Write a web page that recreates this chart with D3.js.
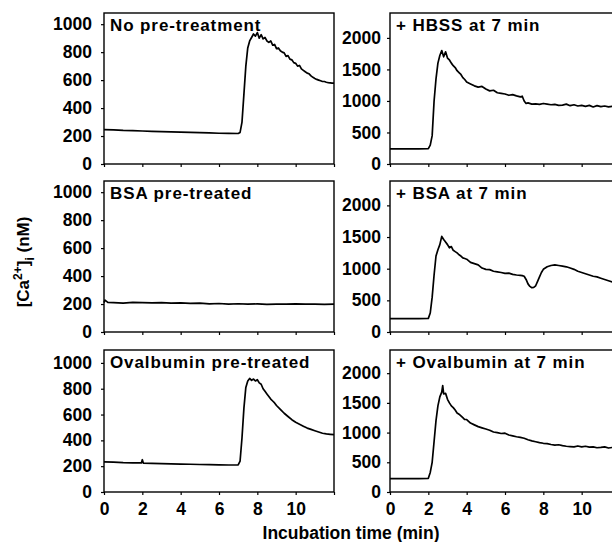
<!DOCTYPE html>
<html><head><meta charset="utf-8">
<script src="https://cdn.jsdelivr.net/npm/d3@7"></script>
<style>
body{margin:0;background:#fff;}
text{font-family:"Liberation Sans",Arial,Helvetica,sans-serif;fill:#000;}
</style></head>
<body><svg id="chart" width="612" height="542"></svg>
<script>
// ---- data (time in min, [Ca2+]i in nM) ----
const titles = ["No pre-treatment","+ HBSS at 7 min","BSA pre-treated","+ BSA at 7 min","Ovalbumin pre-treated","+ Ovalbumin at 7 min"];
const xTicks = [0,2,4,6,8,10,12];
const xTickLabels = ["0","2","4","6","8","10",""];
const yTicksLeft = [0,200,400,600,800,1000];
const yTicksRight = [0,500,1000,1500,2000];
const yMaxLeft = [1080,1080,1100];
const yMaxRight = [2395,2385,2390];

const tNoPre = [0,0.5,1,1.5,2,2.5,3,3.5,4,4.5,5,5.5,6,6.5,7,7.1,7.2,7.3,7.4,7.5,7.6,7.7,7.8,7.9,8.0,8.1,8.2,8.3,8.4,8.5,8.6,8.7,8.8,8.9,9.0,9.1,9.2,9.3,9.4,9.5,9.6,9.7,9.8,9.9,10.0,10.1,10.2,10.3,10.4,10.5,10.6,10.7,10.8,10.9,11.0,11.1,11.2,11.3,11.4,11.5,11.6,11.7,11.8,11.9,12.0];
const vNoPre = [246,244,240,238,236,234,232,230,228,226,224,222,220,219,218,226,300,500,700,830,880,905,930,915,940,900,925,895,905,880,870,880,850,855,825,830,810,800,795,770,775,750,745,725,720,700,705,680,670,660,650,645,630,620,612,605,600,595,590,590,585,582,580,578,578];

const tHbss = [0,0.5,1,1.5,2,2.1,2.2,2.3,2.4,2.5,2.6,2.7,2.8,2.9,3.0,3.1,3.2,3.3,3.4,3.5,3.6,3.7,3.8,3.9,4.0,4.2,4.4,4.6,4.8,5.0,5.2,5.4,5.6,5.8,6.0,6.2,6.4,6.6,6.8,6.9,7.0,7.1,7.2,7.4,7.6,7.8,8.0,8.2,8.4,8.6,8.8,9.0,9.2,9.4,9.6,9.8,10.0,10.2,10.4,10.6,10.8,11.0,11.2,11.4,11.6,11.8,12.0];
const vHbss = [240,240,240,240,245,300,450,1000,1350,1600,1720,1800,1700,1780,1680,1650,1600,1560,1530,1480,1450,1420,1370,1340,1300,1270,1240,1220,1230,1190,1160,1170,1130,1120,1110,1090,1100,1080,1065,1075,1000,960,970,950,955,945,960,950,940,945,930,935,950,925,940,920,930,915,930,905,925,910,920,905,915,925,920];

const tBsaPre = [0,0.05,0.2,0.5,1,1.5,2,2.5,3,3.5,4,4.5,5,5.5,6,6.5,7,7.5,8,8.5,9,9.5,10,10.5,11,11.5,12];
const vBsaPre = [210,228,212,210,206,212,210,208,210,207,209,205,206,201,204,200,202,199,201,198,200,199,201,199,200,198,200];

const tBsaAdd = [0,0.5,1,1.5,2,2.1,2.2,2.3,2.4,2.5,2.6,2.7,2.8,2.9,3.0,3.1,3.2,3.3,3.4,3.5,3.6,3.7,3.8,3.9,4.0,4.2,4.4,4.6,4.8,5.0,5.2,5.4,5.6,5.8,6.0,6.2,6.4,6.6,6.8,6.9,7.0,7.1,7.2,7.3,7.4,7.5,7.6,7.7,7.8,7.9,8.0,8.2,8.4,8.6,8.8,9.0,9.2,9.4,9.6,9.8,10.0,10.2,10.4,10.6,10.8,11.0,11.2,11.4,11.6,11.8,12.0];
const vBsaAdd = [210,212,210,210,215,300,550,900,1200,1300,1380,1510,1460,1420,1380,1330,1350,1290,1270,1250,1220,1200,1170,1160,1150,1100,1080,1060,1010,990,985,960,950,940,925,930,910,900,895,890,880,830,760,720,700,705,730,800,870,940,990,1030,1050,1060,1050,1040,1030,1010,990,960,940,920,900,880,870,850,830,810,790,780,760];

const tOvaPre = [0,0.5,1,1.5,1.95,2.0,2.05,2.5,3,3.5,4,4.5,5,5.5,6,6.5,7,7.1,7.2,7.3,7.4,7.5,7.6,7.7,7.8,7.9,8.0,8.1,8.2,8.3,8.4,8.5,8.6,8.7,8.8,8.9,9.0,9.2,9.4,9.6,9.8,10.0,10.2,10.4,10.6,10.8,11.0,11.2,11.4,11.6,11.8,12.0];
const vOvaPre = [234,232,228,226,225,250,224,222,220,218,216,215,213,212,210,209,210,240,420,650,810,860,880,865,875,860,870,845,835,800,780,760,740,720,705,690,670,640,610,585,560,540,525,510,495,485,475,465,455,450,447,444];

const tOvaAdd = [0,0.5,1,1.5,2,2.1,2.2,2.3,2.4,2.5,2.6,2.7,2.75,2.8,2.9,3.0,3.1,3.2,3.3,3.4,3.5,3.6,3.7,3.8,3.9,4.0,4.2,4.4,4.6,4.8,5.0,5.2,5.4,5.6,5.8,6.0,6.2,6.4,6.6,6.8,7.0,7.2,7.4,7.6,7.8,8.0,8.2,8.4,8.6,8.8,9.0,9.2,9.4,9.6,9.8,10.0,10.2,10.4,10.6,10.8,11.0,11.2,11.4,11.6,11.8,12.0];
const vOvaAdd = [226,226,226,226,230,330,500,850,1200,1450,1600,1680,1790,1650,1660,1560,1500,1450,1420,1380,1330,1310,1280,1250,1220,1220,1160,1130,1100,1080,1060,1040,1010,1000,985,990,960,945,930,920,905,880,860,845,830,820,815,800,790,795,780,770,765,760,775,760,770,755,760,745,750,760,740,750,740,745];

// ---- layout ----
const svg = d3.select("#chart");
const cols = [{x0:104,x1:334},{x0:390,x1:620}];
const rows = [{y0:13,y1:164},{y0:181,y1:332},{y0:350,y1:492}];

const series = [[tNoPre,vNoPre],[tHbss,vHbss],[tBsaPre,vBsaPre],[tBsaAdd,vBsaAdd],[tOvaPre,vOvaPre],[tOvaAdd,vOvaAdd]];

series.forEach((s,i)=>{
  const r = Math.floor(i/2), c = i%2;
  const C = cols[c], R = rows[r];
  const x = d3.scaleLinear().domain([0,12]).range([C.x0,C.x1]);
  const ymax = c===0 ? yMaxLeft[r] : yMaxRight[r];
  const y = d3.scaleLinear().domain([0,ymax]).range([R.y1,R.y0]);
  const g = svg.append("g");

  // y axis
  const ya = d3.axisLeft(y).tickValues(c===0?yTicksLeft:yTicksRight).tickSize(3).tickPadding(c===0?9:6).tickFormat(d3.format("d"));
  const yg = g.append("g").attr("transform",`translate(${C.x0},0)`).call(ya);
  yg.select(".domain").remove();
  yg.selectAll("line").attr("stroke","#000").attr("stroke-width",1.2);
  yg.selectAll("text").style("font-size","17.5px").style("font-weight","bold").attr("font-family",null);

  // x axis
  const xa = d3.axisBottom(x).tickValues(xTicks).tickSize(3).tickPadding(8).tickFormat((d,k)=> r===2 ? xTickLabels[k] : "");
  const xg = g.append("g").attr("transform",`translate(0,${R.y1})`).call(xa);
  xg.select(".domain").remove();
  xg.selectAll("line").attr("stroke","#000").attr("stroke-width",1.2);
  xg.selectAll("text").style("font-size","17.5px").style("font-weight","bold").attr("font-family",null);

  // frame
  g.append("rect").attr("x",C.x0).attr("y",R.y0).attr("width",C.x1-C.x0).attr("height",R.y1-R.y0)
    .attr("fill","none").attr("stroke","#000").attr("stroke-width",1.4);

  // trace
  const line = d3.line().x((d,k)=>x(s[0][k])).y(d=>y(d));
  g.append("path").datum(s[1]).attr("d",line).attr("fill","none").attr("stroke","#000").attr("stroke-width",1.7).attr("stroke-linejoin","round");

  // title
  g.append("text").attr("x",C.x0+6).attr("y",R.y0+18).text(titles[i])
    .style("font-size","17px").style("font-weight","bold").style("letter-spacing","0.9px");
});

// axis titles
svg.append("text").attr("x",351).attr("y",539).attr("text-anchor","middle")
  .style("font-size","17.5px").style("font-weight","bold").text("Incubation time (min)");

const yl = svg.append("text").attr("transform","translate(29,262) rotate(-90)").attr("text-anchor","middle")
  .style("font-size","17px").style("font-weight","bold");
yl.append("tspan").text("[Ca");
yl.append("tspan").attr("dy",-7).style("font-size","12px").text("2+");
yl.append("tspan").attr("dy",7).text("]");
yl.append("tspan").attr("dy",5).style("font-size","12px").text("i");
yl.append("tspan").attr("dy",-5).text(" (nM)");
</script></body></html>
